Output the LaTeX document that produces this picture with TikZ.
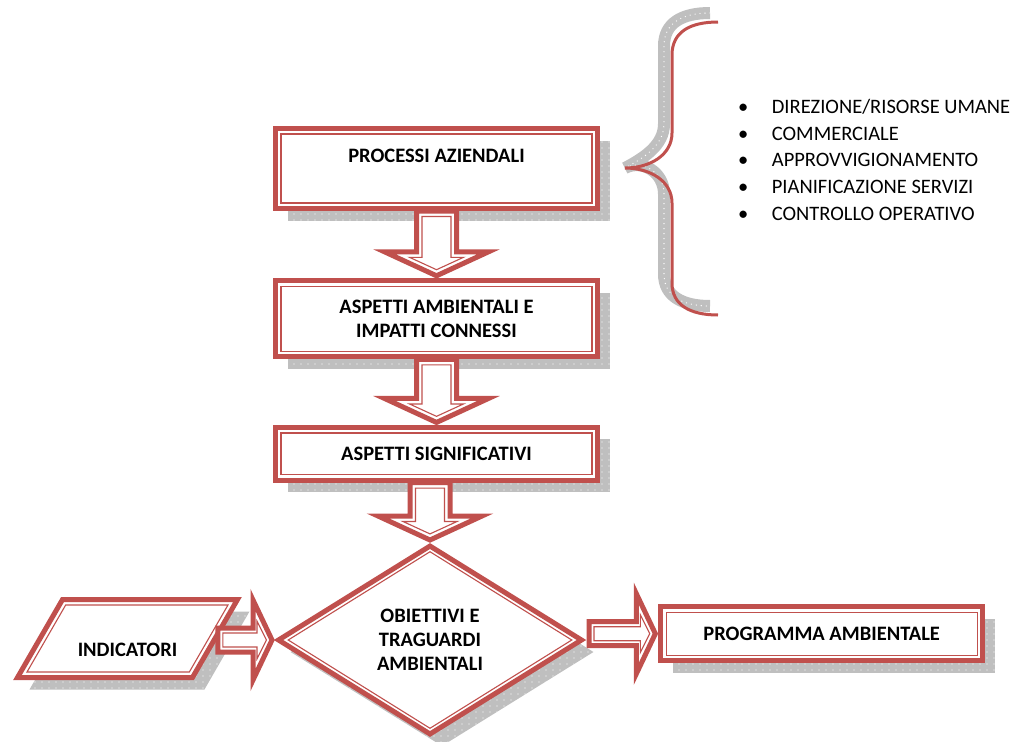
\documentclass[tikz,border=0pt]{standalone}
\usepackage{fontspec}
\setmainfont{Carlito}
\usepackage{tikz}
\usetikzlibrary{shapes.geometric,shadows,patterns.meta,calc}
\definecolor{framered}{RGB}{192,80,77}
\definecolor{shadowgray}{RGB}{191,191,191}
\tikzdeclarepattern{
  name=shadowdots, type=uncolored,
  bottom left={(-1pt,-1pt)}, top right={(1pt,1pt)},
  tile size={(7pt,6pt)},
  code={\fill (0pt,0pt) circle (0.7pt);}
}
\tikzstyle{shadowed}=[drop shadow={shadow xshift=12pt, shadow yshift=-12pt, fill=shadowgray, opacity=1, postaction={pattern=shadowdots, pattern color=white}}]
\tikzstyle{frame}=[draw=framered, line width=5pt, fill=white, inner sep=0pt, align=center, font=\fontsize{20.5}{24}\selectfont\bfseries, shadowed]
\tikzstyle{thinframe}=[draw=framered, line width=1.1pt, inner sep=0pt]
\tikzstyle{box}=[frame, rectangle, minimum width=322pt]
\tikzstyle{thinbox}=[thinframe, rectangle, minimum width=311pt]
\tikzstyle{slanted}=[trapezium, trapezium left angle=60, trapezium right angle=120, trapezium stretches body]
\tikzstyle{blockarrow}=[draw=framered, line width=5pt, fill=white, line join=miter]
\tikzstyle{blockinner}=[draw=framered, line width=1.1pt]
\tikzstyle{listitem}=[anchor=base west, inner sep=0pt, font=\fontsize{20.5}{24}\selectfont]
\tikzstyle{brace}=[draw=framered, line width=3pt]
\tikzstyle{braceshadow}=[draw=shadowgray, line width=12pt, shift={(-8,-9)}]
\tikzstyle{bracedots}=[draw=white, line width=1.3pt, line cap=round, dash pattern=on 0pt off 5pt, shift={(-8,-9)}]

% block arrow pointing down, x taken from the target
\newcommand{\downblock}[2]{%
  \draw[blockarrow] let \p1=(#1), \p2=(#2) in
    (\x2-20,\y1) -- (\x2+20,\y1) -- (\x2+20,\y2+26.5) -- (\x2+52,\y2+26.5) -- (\x2,\y2+2.5)
    -- (\x2-52,\y2+26.5) -- (\x2-20,\y2+26.5) -- cycle;
  \draw[blockinner] let \p1=(#1), \p2=(#2) in
    (\x2-14.5,\y1-5.5) -- (\x2+14.5,\y1-5.5) -- (\x2+14.5,\y2+21) -- (\x2+27,\y2+21) -- (\x2,\y2+8.6)
    -- (\x2-27,\y2+21) -- (\x2-14.5,\y2+21) -- cycle;}
% block arrow pointing right, y taken from the target
\newcommand{\rightblock}[2]{%
  \draw[blockarrow] let \p1=(#1), \p2=(#2) in
    (\x1,\y2+12) -- (\x2-22,\y2+12) -- (\x2-22,\y2+40) -- (\x2-3,\y2) -- (\x2-22,\y2-40)
    -- (\x2-22,\y2-12) -- (\x1,\y2-12) -- cycle;
  \draw[blockinner] let \p1=(#1), \p2=(#2) in
    (\x1+5,\y2+7) -- (\x2-18,\y2+7) -- (\x2-18,\y2+18.8) -- (\x2-8.6,\y2) -- (\x2-18,\y2-18.8)
    -- (\x2-18,\y2-7) -- (\x1+5,\y2-7) -- cycle;}

\begin{document}
\begin{tikzpicture}[x=1pt, y=-1pt]
  \useasboundingbox (0,0) rectangle (1029,742);

  % brace with its shadow
  \coordinate (cusp) at (625,168);
  \draw[braceshadow] (718,22) .. controls (690,22) and (672,32) .. (672,55) -- (672,133)
    .. controls (672,155) and (650,168) .. (cusp) .. controls (650,168) and (672,181) .. (672,203)
    -- (672,283) .. controls (672,305) and (690,315) .. (718,315);
  \draw[bracedots] (718,22) .. controls (690,22) and (672,32) .. (672,55) -- (672,133)
    .. controls (672,155) and (650,168) .. (cusp) .. controls (650,168) and (672,181) .. (672,203)
    -- (672,283) .. controls (672,305) and (690,315) .. (718,315);
  \draw[brace] (718,22) .. controls (690,22) and (672,32) .. (672,55) -- (672,133)
    .. controls (672,155) and (650,168) .. (cusp) .. controls (650,168) and (672,181) .. (672,203)
    -- (672,283) .. controls (672,305) and (690,315) .. (718,315);

  % list of processes
  \foreach \txt [count=\i] in {DIREZIONE/RISORSE UMANE, COMMERCIALE, APPROVVIGIONAMENTO, PIANIFICAZIONE SERVIZI, CONTROLLO OPERATIVO}
    \node[listitem] (item\i) at (738, 86.7+26.7*\i) {\makebox[33.7pt][l]{\textbullet}\txt};

  % main chain
  \node[box, minimum height=80pt, text depth=26pt] (proc) at (436.5,168.5) {PROCESSI AZIENDALI};
  \node[thinbox, minimum height=69pt] (proc-in) at (proc) {};

  \node[box, minimum height=76pt] (asp) at (436.5,318.8) {ASPETTI AMBIENTALI E\\IMPATTI CONNESSI};
  \node[thinbox, minimum height=65pt] (asp-in) at (asp) {};

  \node[box, minimum height=52.7pt] (sig) at (436.5,453.8) {ASPETTI SIGNIFICATIVI};
  \node[thinbox, minimum height=41.7pt] (sig-in) at (sig) {};

  \node[frame, diamond, minimum width=305pt, minimum height=190pt] (obj) at (430,640) {OBIETTIVI E\\TRAGUARDI\\AMBIENTALI};
  \node[thinframe, diamond, minimum width=284pt, minimum height=177pt] (obj-in) at (obj) {};

  \node[frame, slanted, inner ysep=21pt, text height=36pt, text depth=0pt,
        minimum width=220pt] (ind) at (127.5,638.5) {INDICATORI};
  \node[thinframe, slanted, inner ysep=33.5pt, minimum width=201pt] (ind-in) at (ind) {};

  \node[box, minimum width=321.7pt, minimum height=54.3pt] (prog) at (821.7,633.7) {PROGRAMMA AMBIENTALE};
  \node[thinbox, minimum width=310.7pt, minimum height=43.3pt] (prog-in) at (prog) {};

  % block arrows
  \downblock{proc.south}{asp.north}
  \downblock{asp.south}{sig.north}
  \downblock{sig.south}{obj.north}
  \rightblock{ind.east}{obj.west}
  \rightblock{$(obj.east)+(4,0)$}{prog.west}
\end{tikzpicture}
\end{document}
